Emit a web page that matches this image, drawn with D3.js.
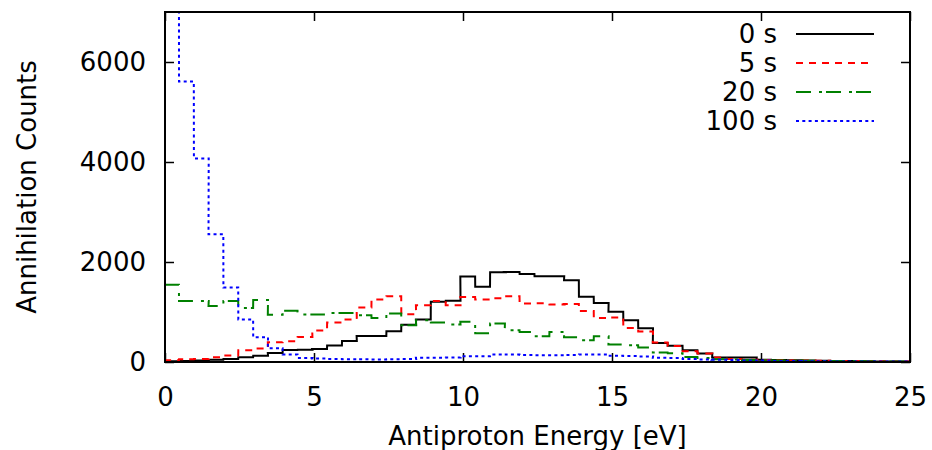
<!DOCTYPE html>
<html>
<head>
<meta charset="utf-8">
<script src="https://cdn.jsdelivr.net/npm/d3@7"></script>
<style>
  html, body { margin: 0; padding: 0; background: #fff; }
  svg { display: block; font-family: "DejaVu Sans", sans-serif; }
</style>
</head>
<body>
<svg id="chart" width="932" height="450"></svg>
<script>
// ---- data ----
const binLow = [-0.03, 0.47, 0.97, 1.46, 1.96, 2.46, 2.96, 3.45, 3.95, 4.45, 4.94, 5.44, 5.94, 6.43, 6.93, 7.43, 7.93, 8.42, 8.92, 9.42, 9.91, 10.41, 10.91, 11.40, 11.90, 12.40, 12.90, 13.39, 13.89, 14.39, 14.88, 15.38, 15.88, 16.37, 16.87, 17.37, 17.87, 18.36, 18.86, 19.36, 19.85, 20.35, 20.85, 21.34, 21.84, 22.34, 22.84, 23.33, 23.83, 24.33, 24.82];
const binWidth = 0.497;

const counts0s = [15, 20, 28, 45, 60, 95, 125, 178, 240, 245, 262, 330, 420, 520, 520, 614, 745, 850, 1205, 1225, 1710, 1505, 1795, 1800, 1760, 1714, 1714, 1634, 1305, 1180, 1005, 834, 675, 380, 325, 234, 168, 88, 88, 88, 45, 40, 35, 30, 25, 22, 18, 15, 12, 10, 8];
const counts5s = [34, 54, 60, 95, 130, 234, 268, 395, 414, 500, 630, 788, 848, 1088, 1250, 1314, 954, 1134, 1220, 1134, 1300, 1248, 1275, 1314, 1168, 1175, 1150, 1160, 1020, 880, 890, 680, 610, 390, 320, 215, 168, 88, 60, 45, 40, 35, 30, 28, 25, 22, 20, 18, 15, 12, 10];
const counts20s = [1545, 1220, 1220, 1120, 1220, 1080, 1240, 945, 1025, 948, 950, 980, 980, 934, 880, 968, 734, 834, 788, 752, 805, 575, 768, 634, 600, 514, 600, 495, 434, 514, 348, 334, 290, 190, 175, 100, 80, 55, 50, 40, 35, 30, 28, 25, 22, 20, 18, 15, 12, 10, 8];
const counts100s = [9000, 5610, 4070, 2555, 1490, 850, 495, 275, 150, 80, 70, 60, 55, 55, 50, 55, 60, 85, 85, 90, 115, 115, 150, 150, 140, 135, 135, 140, 150, 150, 125, 120, 110, 85, 80, 60, 50, 45, 40, 30, 30, 20, 20, 15, 15, 12, 10, 10, 8, 8, 5];

const seriesNames = ["0 s", "5 s", "20 s", "100 s"];
const seriesColors = ["#000000", "#ff0000", "#008000", "#0000ff"];
const seriesDash = [null, "7,6", "15,8,3,4", "3,3.3"];
const seriesValues = [counts0s, counts5s, counts20s, counts100s];

const xTicks = [0, 5, 10, 15, 20, 25];
const yTicks = [0, 2000, 4000, 6000];

// ---- layout ----
const svg = d3.select("#chart");
const L = 165, R = 910, T = 12, B = 362;
const FS = 26;

const x = d3.scaleLinear().domain([0, 25]).range([L, R]);
const y = d3.scaleLinear().domain([0, 7000]).range([B, T]);

svg.append("defs").append("clipPath").attr("id", "plotclip")
  .append("rect").attr("x", L).attr("y", T).attr("width", R - L).attr("height", B - T);

// axes with inward ticks
const tickLen = 9;
const gx = svg.append("g").attr("transform", `translate(0,${B})`)
  .call(d3.axisBottom(x).tickValues(xTicks).tickSizeInner(-tickLen).tickSizeOuter(0).tickPadding(26).tickFormat(d3.format("d")));
const gy = svg.append("g").attr("transform", `translate(${L},0)`)
  .call(d3.axisLeft(y).tickValues(yTicks).tickSizeInner(-tickLen).tickSizeOuter(0).tickPadding(19).tickFormat(d3.format("d")));
const gt = svg.append("g").attr("transform", `translate(0,${T})`)
  .call(d3.axisTop(x).tickValues(xTicks).tickSizeInner(-tickLen).tickSizeOuter(0).tickFormat(""));
const gr = svg.append("g").attr("transform", `translate(${R},0)`)
  .call(d3.axisRight(y).tickValues(yTicks).tickSizeInner(-tickLen).tickSizeOuter(0).tickFormat(""));

[gx, gy, gt, gr].forEach(g => {
  g.select(".domain").remove();
  g.selectAll("line").attr("stroke", "#000").attr("stroke-width", 1.5);
  g.selectAll("text").attr("font-size", FS).attr("font-family", "DejaVu Sans, sans-serif").attr("fill", "#000");
});

// series
const line = d3.line().x(d => x(d[0])).y(d => y(d[1]));
const plotG = svg.append("g").attr("clip-path", "url(#plotclip)");
seriesValues.forEach((vals, i) => {
  const pts = [];
  vals.forEach((v, k) => {
    pts.push([binLow[k], v]);
    pts.push([binLow[k] + binWidth, v]);
  });
  plotG.append("path")
    .attr("d", line(pts))
    .attr("fill", "none")
    .attr("stroke", seriesColors[i])
    .attr("stroke-width", 2)
    .attr("stroke-dasharray", seriesDash[i]);
});

// border
svg.append("rect").attr("x", L).attr("y", T).attr("width", R - L).attr("height", B - T)
  .attr("fill", "none").attr("stroke", "#000").attr("stroke-width", 2);

// legend
const legY = [34, 63, 92, 121];
seriesNames.forEach((name, i) => {
  svg.append("text").attr("x", 777).attr("y", legY[i]).attr("dy", "0.36em")
    .attr("text-anchor", "end").attr("font-size", FS).attr("fill", "#000").text(name);
  svg.append("line").attr("x1", 796).attr("x2", 874).attr("y1", legY[i]).attr("y2", legY[i])
    .attr("stroke", seriesColors[i]).attr("stroke-width", 2)
    .attr("stroke-dasharray", seriesDash[i]);
});

// axis titles
svg.append("text").attr("x", (L + R) / 2).attr("y", 445).attr("text-anchor", "middle")
  .attr("font-size", FS).attr("fill", "#000").text("Antiproton Energy [eV]");
svg.append("text").attr("transform", `translate(36,${(T + B) / 2}) rotate(-90)`)
  .attr("text-anchor", "middle").attr("font-size", FS).attr("fill", "#000").text("Annihilation Counts");
</script>
</body>
</html>
